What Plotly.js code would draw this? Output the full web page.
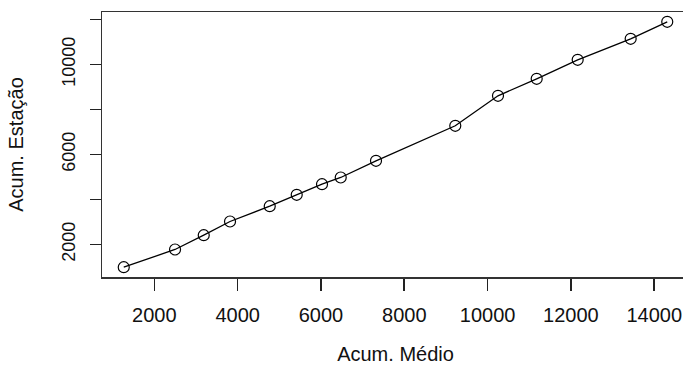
<!DOCTYPE html>
<html>
<head>
<meta charset="utf-8">
<script src="https://cdn.plot.ly/plotly-3.0.1.min.js"></script>
<style>
html, body { margin: 0; padding: 0; overflow: hidden; background: #fff; }
#chart { width: 700px; height: 373px; }
</style>
</head>
<body>
<div id="chart"></div>
<script>
// Data
const acumMedio = [1266, 2497, 3186, 3817, 4770, 5418, 6025, 6474, 7321, 9224, 10249, 11178, 12162, 13434, 14312];
const acumEstacao = [991, 1778, 2413, 3022, 3702, 4209, 4680, 4978, 5720, 7275, 8608, 9364, 10208, 11142, 11897];
const xTickVals = [2000, 4000, 6000, 8000, 10000, 12000, 14000];
const xTickText = ["2000", "4000", "6000", "8000", "10000", "12000", "14000"];
const yTickVals = [2000, 4000, 6000, 8000, 10000, 12000];
const yTickText = ["2000", "", "6000", "", "10000", ""];

const trace = {
  x: acumMedio,
  y: acumEstacao,
  type: 'scatter',
  mode: 'lines+markers',
  line: { color: '#000', width: 1.3 },
  marker: { symbol: 'circle-open', size: 11, color: '#000', line: { color: '#000', width: 1.2 } },
  hoverinfo: 'skip'
};

const font = "Liberation Sans, Arial, Helvetica, sans-serif";

const layout = {
  width: 700,
  height: 373,
  margin: { l: 102, r: 11, t: 12, b: 96 },
  paper_bgcolor: '#fff',
  plot_bgcolor: '#fff',
  showlegend: false,
  font: { family: font, color: '#111' },
  xaxis: {
    range: [744, 14834],
    tickmode: 'array',
    tickvals: xTickVals,
    ticktext: xTickText,
    ticks: 'outside',
    ticklen: 12,
    tickwidth: 1.6,
    tickcolor: '#222',
    showgrid: false,
    zeroline: false,
    showline: true,
    mirror: true,
    linecolor: '#333',
    linewidth: 1.5,
    tickfont: { family: font, size: 20, color: '#111' },
    ticklabelstandoff: 7,
    title: { text: 'Acum. Médio', font: { family: font, size: 20, color: '#111' }, standoff: 22 },
    automargin: false
  },
  yaxis: {
    range: [555, 12333],
    tickmode: 'array',
    tickvals: yTickVals,
    ticktext: yTickText,
    tickangle: -90,
    ticks: 'outside',
    ticklen: 11,
    tickwidth: 1.6,
    tickcolor: '#222',
    showgrid: false,
    zeroline: false,
    showline: true,
    mirror: true,
    linecolor: '#333',
    linewidth: 1.5,
    tickfont: { family: font, size: 18, color: '#111' },
    ticklabelstandoff: 7,
    title: { text: 'Acum. Estação', font: { family: font, size: 20, color: '#111' }, standoff: 30 },
    automargin: false
  }
};

Plotly.newPlot('chart', [trace], layout, { displayModeBar: false, staticPlot: true });
</script>
</body>
</html>
